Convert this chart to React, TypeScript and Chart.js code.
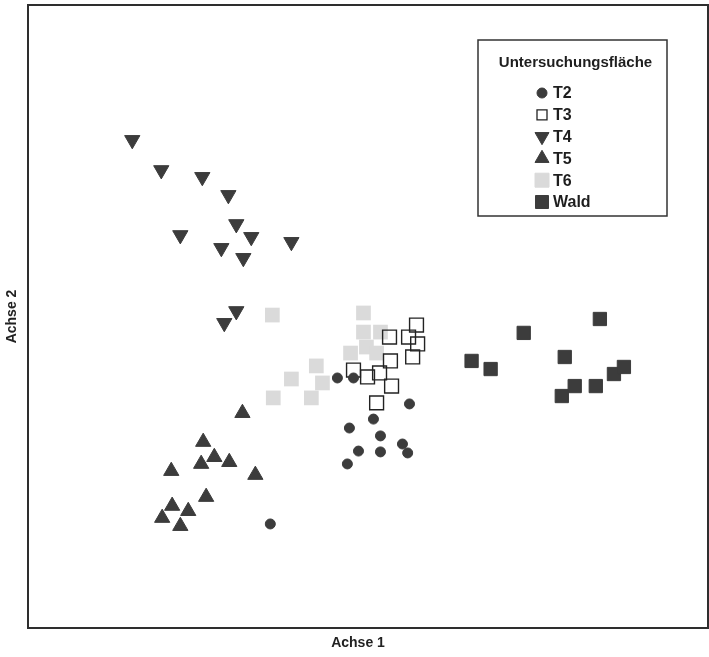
import React, { useEffect, useRef } from "react";
import { Chart, registerables } from "chart.js";

Chart.register(...registerables);

// ---- data (ordination scores) ----
const SERIES_NAMES = ["T2", "T3", "T4", "T5", "T6", "Wald"];
const LEGEND_TITLE = "Untersuchungsfläche";
const X_TITLE = "Achse 1";
const Y_TITLE = "Achse 2";
const X_MIN = -1.5;
const X_MAX = 1.5;
const Y_MIN = -1.5;
const Y_MAX = 1.5;

const T2_X = [-0.431, -0.135, -0.064, 0.183, 0.024, -0.082, 0.055, 0.152, 0.175, -0.042, 0.055, -0.091];
const T2_Y = [-0.999, -0.296, -0.296, -0.421, -0.494, -0.537, -0.575, -0.614, -0.657, -0.648, -0.652, -0.71];

const T3_X = [0.214, 0.095, 0.179, 0.219, 0.099, 0.197, -0.064, -0.002, 0.051, 0.104, 0.038];
const T3_Y = [-0.041, -0.099, -0.099, -0.132, -0.214, -0.195, -0.258, -0.291, -0.272, -0.335, -0.416];

const T4_X = [-1.04, -0.912, -0.731, -0.616, -0.828, -0.581, -0.515, -0.647, -0.55, -0.338, -0.581, -0.634];
const T4_Y = [0.85, 0.705, 0.672, 0.585, 0.392, 0.445, 0.383, 0.33, 0.282, 0.359, 0.026, -0.031];

const T5_X = [-0.554, -0.727, -0.678, -0.736, -0.612, -0.868, -0.497, -0.714, -0.864, -0.793, -0.908, -0.828];
const T5_Y = [-0.465, -0.604, -0.677, -0.71, -0.701, -0.744, -0.763, -0.869, -0.912, -0.937, -0.97, -1.009];

const T6_X = [-0.422, -0.02, -0.02, 0.055, -0.007, 0.038, -0.077, -0.228, -0.338, -0.201, -0.418, -0.25];
const T6_Y = [0.007, 0.017, -0.075, -0.075, -0.147, -0.176, -0.176, -0.238, -0.301, -0.32, -0.392, -0.392];

const WALD_X = [1.023, 0.687, 0.457, 0.541, 0.868, 0.912, 0.855, 1.005, 1.085, 1.129];
const WALD_Y = [-0.012, -0.079, -0.214, -0.253, -0.195, -0.335, -0.383, -0.335, -0.277, -0.243];

const FONT = "'Liberation Sans', Arial, Helvetica, sans-serif";
const DARK = "#3c3c3c";
const LIGHT = "#dadada";

const toPoints = (xs: number[], ys: number[]) => xs.map((x, i) => ({ x, y: ys[i] }));

type LegendMarker = { shape: string; size: number; fill: string; stroke: string; lw: number };

const LEGEND_MARKERS: LegendMarker[] = [
  { shape: "circle", size: 10, fill: DARK, stroke: DARK, lw: 1 },
  { shape: "rect", size: 10, fill: "#ffffff", stroke: "#222222", lw: 1.3 },
  { shape: "triangleDown", size: 14, fill: DARK, stroke: DARK, lw: 1 },
  { shape: "triangle", size: 14, fill: DARK, stroke: DARK, lw: 1 },
  { shape: "rect", size: 14, fill: LIGHT, stroke: LIGHT, lw: 1 },
  { shape: "rect", size: 13, fill: DARK, stroke: DARK, lw: 1 },
];

function drawMarker(ctx: CanvasRenderingContext2D, m: LegendMarker, x: number, y: number) {
  ctx.save();
  ctx.fillStyle = m.fill;
  ctx.strokeStyle = m.stroke;
  ctx.lineWidth = m.lw;
  ctx.beginPath();
  const s = m.size;
  if (m.shape === "circle") {
    ctx.arc(x, y, s / 2, 0, Math.PI * 2);
  } else if (m.shape === "rect") {
    ctx.rect(x - s / 2, y - s / 2, s, s);
  } else {
    const h = s * 0.866;
    if (m.shape === "triangle") {
      ctx.moveTo(x, y - (h * 2) / 3);
      ctx.lineTo(x + s / 2, y + h / 3);
      ctx.lineTo(x - s / 2, y + h / 3);
    } else {
      ctx.moveTo(x, y + (h * 2) / 3);
      ctx.lineTo(x + s / 2, y - h / 3);
      ctx.lineTo(x - s / 2, y - h / 3);
    }
    ctx.closePath();
  }
  ctx.fill();
  ctx.stroke();
  ctx.restore();
}

const framePlugin = {
  id: "frame",
  afterDraw(chart: any) {
    const { ctx, chartArea } = chart;
    ctx.save();
    ctx.strokeStyle = "#2e2e2e";
    ctx.lineWidth = 2;
    ctx.strokeRect(chartArea.left, chartArea.top, chartArea.right - chartArea.left, chartArea.bottom - chartArea.top);
    // x-axis title, slightly left of the plot centre as in the original
    ctx.fillStyle = "#222222";
    ctx.font = `bold 14px ${FONT}`;
    ctx.textAlign = "center";
    ctx.textBaseline = "middle";
    ctx.fillText(X_TITLE, (chartArea.left + chartArea.right) / 2 - 10, chartArea.bottom + 15);
    ctx.restore();
  },
};

const legendPlugin = {
  id: "legendBox",
  afterDraw(chart: any) {
    const { ctx, chartArea } = chart;
    const bx = chartArea.left + 450;
    const by = chartArea.top + 35;
    const bw = 189;
    const bh = 176;
    ctx.save();
    ctx.fillStyle = "#ffffff";
    ctx.fillRect(bx, by, bw, bh);
    ctx.strokeStyle = "#333333";
    ctx.lineWidth = 1.5;
    ctx.strokeRect(bx, by, bw, bh);
    ctx.fillStyle = "#1e1e1e";
    ctx.font = `bold 15px ${FONT}`;
    ctx.textAlign = "center";
    ctx.textBaseline = "middle";
    ctx.fillText(LEGEND_TITLE, bx + bw / 2 + 3, by + 23);
    ctx.textAlign = "left";
    ctx.font = `bold 16px ${FONT}`;
    SERIES_NAMES.forEach((name, i) => {
      const y = by + 53 + i * 21.8;
      drawMarker(ctx, LEGEND_MARKERS[i], bx + 64, y);
      ctx.fillStyle = "#1e1e1e";
      ctx.fillText(name, bx + 75, y + 1);
    });
    ctx.restore();
  },
};

export default function App() {
  const ref = useRef<HTMLCanvasElement>(null);

  useEffect(() => {
    if (!ref.current) return;
    const chart = new Chart(ref.current, {
      type: "scatter",
      data: {
        datasets: [
          {
            label: SERIES_NAMES[0],
            data: toPoints(T2_X, T2_Y),
            pointStyle: "circle",
            pointRadius: 5,
            backgroundColor: DARK,
            borderColor: DARK,
            borderWidth: 1,
          },
          {
            label: SERIES_NAMES[1],
            data: toPoints(T3_X, T3_Y),
            pointStyle: "rect",
            pointRadius: 9.8,
            backgroundColor: "rgba(255,255,255,0)",
            borderColor: "#222222",
            borderWidth: 1.4,
          },
          {
            label: SERIES_NAMES[2],
            data: toPoints(T4_X, T4_Y),
            pointStyle: "triangle",
            rotation: 180,
            pointRadius: 8.8,
            backgroundColor: DARK,
            borderColor: DARK,
            borderWidth: 1,
          },
          {
            label: SERIES_NAMES[3],
            data: toPoints(T5_X, T5_Y),
            pointStyle: "triangle",
            pointRadius: 8.8,
            backgroundColor: DARK,
            borderColor: DARK,
            borderWidth: 1,
          },
          {
            label: SERIES_NAMES[4],
            data: toPoints(T6_X, T6_Y),
            pointStyle: "rect",
            pointRadius: 10.4,
            backgroundColor: LIGHT,
            borderColor: LIGHT,
            borderWidth: 0,
          },
          {
            label: SERIES_NAMES[5],
            data: toPoints(WALD_X, WALD_Y),
            pointStyle: "rect",
            pointRadius: 9.4,
            backgroundColor: DARK,
            borderColor: DARK,
            borderWidth: 1,
          },
        ],
      },
      options: {
        animation: false,
        responsive: false,
        events: [],
        layout: { autoPadding: false, padding: { top: 5, right: 1, bottom: 29, left: 0 } },
        plugins: {
          legend: { display: false },
          tooltip: { enabled: false },
        },
        scales: {
          x: {
            type: "linear",
            min: X_MIN,
            max: X_MAX,
            grid: { display: false, drawTicks: false },
            ticks: { display: false },
            border: { display: false },
            title: { display: false, text: X_TITLE },
          },
          y: {
            type: "linear",
            min: Y_MIN,
            max: Y_MAX,
            grid: { display: false, drawTicks: false },
            ticks: { display: false },
            border: { display: false },
            title: {
              display: true,
              text: Y_TITLE,
              color: "#222222",
              font: { family: FONT, size: 14, weight: "bold" },
              padding: { top: 3.6, bottom: 7.6 },
            },
          },
        },
      },
      plugins: [framePlugin, legendPlugin],
    });
    return () => chart.destroy();
  }, []);

  return (
    <div style={{ position: "absolute", left: 0, top: 0, width: 709, height: 657, background: "#ffffff" }}>
      <canvas ref={ref} width={709} height={657} style={{ display: "block" }} />
    </div>
  );
}
